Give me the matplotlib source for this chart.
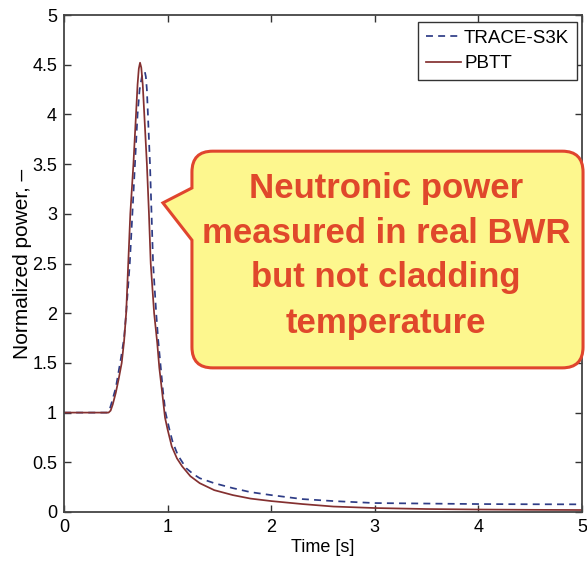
import matplotlib

matplotlib.use("Agg")
import matplotlib.pyplot as plt  # noqa: E402
from matplotlib.path import Path  # noqa: E402
from matplotlib.patches import PathPatch  # noqa: E402
from matplotlib.ticker import FormatStrFormatter, MultipleLocator  # noqa: E402

plt.rcParams["font.family"] = ["Liberation Sans", "DejaVu Sans"]

# ---- data ----
trace_t = [0.0, 0.42, 0.44, 0.46, 0.50, 0.55, 0.58, 0.60, 0.635, 0.66, 0.685,
           0.71, 0.73, 0.755, 0.78, 0.79, 0.80, 0.81, 0.83, 0.845, 0.86, 0.89,
           0.91, 0.93, 0.955, 0.98, 1.02, 1.05, 1.10, 1.18, 1.25, 1.31, 1.45,
           1.63, 1.8, 2.0, 2.3, 2.6, 3.0, 3.5, 4.0, 4.5, 5.0]
trace_p = [1.0, 1.0, 1.03, 1.1, 1.25, 1.55, 1.75, 2.0, 2.5, 3.0, 3.5,
           4.0, 4.25, 4.4, 4.43, 4.38, 4.25, 4.0, 3.5, 3.0, 2.5, 2.0,
           1.72, 1.5, 1.22, 1.0, 0.82, 0.70, 0.57, 0.44, 0.38, 0.34, 0.29,
           0.24, 0.20, 0.17, 0.13, 0.11, 0.09, 0.085, 0.08, 0.078, 0.077]

pbtt_t = [0.0, 0.43, 0.45, 0.47, 0.50, 0.53, 0.557, 0.58, 0.60, 0.62, 0.64,
          0.67, 0.695, 0.71, 0.722, 0.734, 0.746, 0.76, 0.775, 0.80, 0.82,
          0.837, 0.87, 0.90, 0.92, 0.95, 0.975, 1.0, 1.04, 1.09, 1.14, 1.22,
          1.31, 1.45, 1.63, 1.8, 2.0, 2.3, 2.6, 3.0, 3.5, 4.0, 4.5, 5.0]
pbtt_p = [1.0, 1.0, 1.02, 1.08, 1.2, 1.35, 1.5, 1.72, 2.0, 2.5, 3.0,
          3.5, 4.0, 4.3, 4.46, 4.52, 4.47, 4.3, 4.0, 3.5, 3.0,
          2.5, 2.0, 1.7, 1.45, 1.18, 0.95, 0.83, 0.66, 0.54, 0.46, 0.36,
          0.29, 0.22, 0.17, 0.135, 0.11, 0.08, 0.055, 0.04, 0.03, 0.025,
          0.022, 0.02]

series_labels = ["TRACE-S3K", "PBTT"]
callout_lines = ["Neutronic power", "measured in real BWR",
                 "but not cladding", "temperature"]

TXT_RED = "#E0482B"

fig = plt.figure(figsize=(5.87, 5.65), dpi=100)
ax = fig.add_axes([64 / 587, 53 / 565, 518 / 587, 497 / 565])

ax.plot(trace_t, trace_p, linestyle=(0, (4, 3)), color="#2E3C86", lw=1.25,
        label=series_labels[0])
ax.plot(pbtt_t, pbtt_p, linestyle="-", color="#843030", lw=1.25,
        label=series_labels[1])

ax.set_xlim(0, 5)
ax.set_ylim(0, 5)
ax.xaxis.set_major_locator(MultipleLocator(1))
ax.yaxis.set_major_locator(MultipleLocator(0.5))
ax.xaxis.set_major_formatter(FormatStrFormatter("%g"))
ax.yaxis.set_major_formatter(FormatStrFormatter("%g"))
ax.tick_params(direction="in", top=True, right=True, length=5, width=1,
               labelsize=13, color="#333333", pad=5)
for sp in ax.spines.values():
    sp.set_color("#444444")
    sp.set_linewidth(1.3)

ax.set_xlabel("Time [s]", fontsize=13, labelpad=2)
ax.set_ylabel("Normalized power, \u2013", fontsize=15, labelpad=0)

leg = ax.legend(loc="upper right", bbox_to_anchor=(0.990, 0.986),
                fontsize=13.5, handlelength=1.9, handletextpad=0.15,
                borderpad=0.4, labelspacing=0.45, borderaxespad=0,
                fancybox=False, framealpha=1)
leg.get_frame().set_edgecolor("#333333")
leg.get_frame().set_linewidth(1.0)

# ---- speech-bubble callout (axes fraction coords) ----
x0, x1, y0, y1 = 0.247, 1.002, 0.29, 0.726
rx, ry = 0.040, 0.042
tip = (0.191, 0.622)
base_hi, base_lo = 0.652, 0.547
verts = [
    (x0 + rx, y1), (x1 - rx, y1), (x1, y1), (x1, y1 - ry),
    (x1, y0 + ry), (x1, y0), (x1 - rx, y0),
    (x0 + rx, y0), (x0, y0), (x0, y0 + ry),
    (x0, base_lo), tip, (x0, base_hi),
    (x0, y1 - ry), (x0, y1), (x0 + rx, y1),
    (x0 + rx, y1),
]
codes = [
    Path.MOVETO, Path.LINETO, Path.CURVE3, Path.CURVE3,
    Path.LINETO, Path.CURVE3, Path.CURVE3,
    Path.LINETO, Path.CURVE3, Path.CURVE3,
    Path.LINETO, Path.LINETO, Path.LINETO,
    Path.LINETO, Path.CURVE3, Path.CURVE3,
    Path.CLOSEPOLY,
]
bubble = PathPatch(Path(verts, codes), transform=ax.transAxes,
                   facecolor="#FDF78E", edgecolor="#E0452E", lw=2.2,
                   zorder=5, clip_on=False)
ax.add_patch(bubble)

baselines = [0.632, 0.541, 0.453, 0.360]
for line, yb in zip(callout_lines, baselines):
    ax.text(0.622, yb, line, transform=ax.transAxes, ha="center",
            va="baseline", fontsize=25, fontweight="bold", color=TXT_RED,
            zorder=6)

fig.savefig("out.png", dpi=100)
